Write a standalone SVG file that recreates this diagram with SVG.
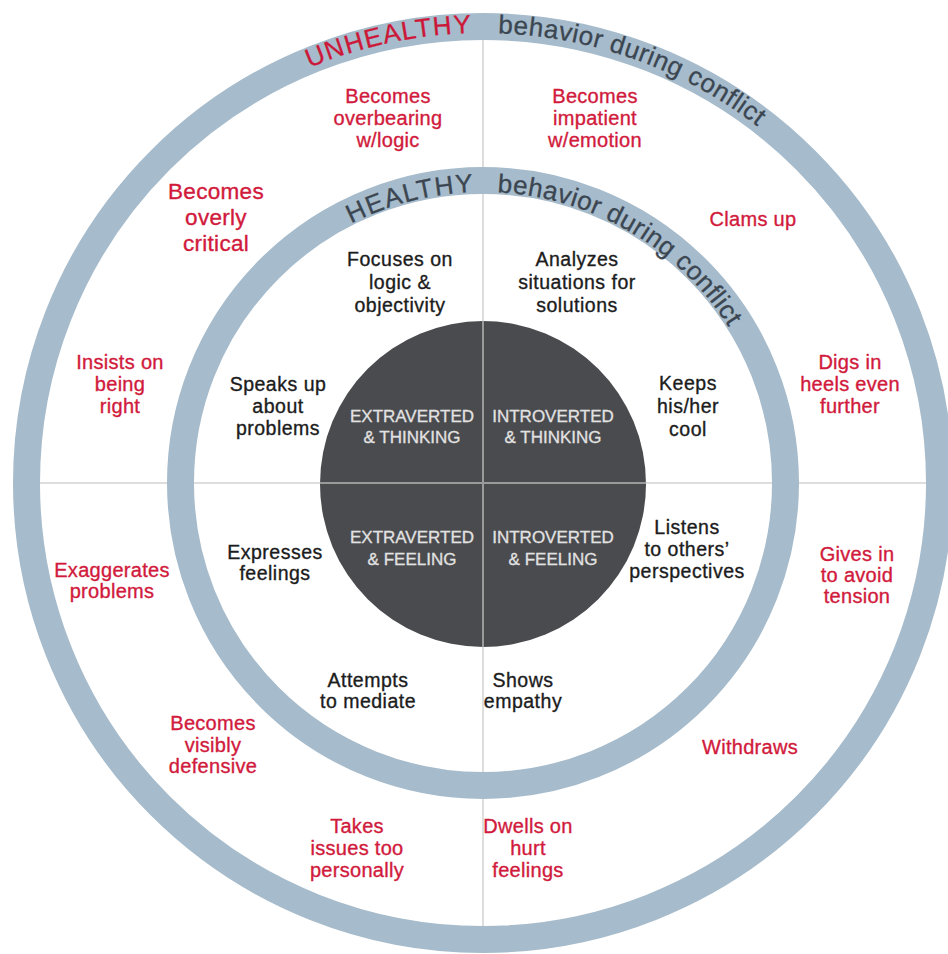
<svg xmlns="http://www.w3.org/2000/svg" xmlns:xlink="http://www.w3.org/1999/xlink" width="948" height="954" viewBox="0 0 948 954">
  <defs>
    <!-- arcs (clockwise from the left, over the top) used as baselines for ring titles -->
    <path id="outerArc" d="M 33 483 A 450 450 0 0 1 933 483"/>
    <path id="innerArc" d="M 192 483 A 291 291 0 0 1 774 483"/>
  </defs>
  <style>
    text { font-family: "Liberation Sans", Arial, Helvetica, sans-serif; text-anchor: middle; stroke-linejoin: round; }
    .ring { fill: none; stroke: #a6bbcb; stroke-width: 27; }
    .divider { stroke: #d2d2d2; stroke-width: 1.5; }
    .core-divider { stroke: #9a9a9a; stroke-width: 2; }
    .core { fill: #4a4b4e; }
    .red { fill: #d11a3c; stroke: #d11a3c; stroke-width: 0.35; font-size: 20px; letter-spacing: 0.3px; }
    .red.big { font-size: 22.5px; }
    .blk { fill: #1c1c1c; stroke: #1c1c1c; stroke-width: 0.35; font-size: 19.5px; letter-spacing: 0.5px; }
    .ctr { fill: #e2e2e2; stroke: #e2e2e2; stroke-width: 0.3; font-size: 17px; }
    .arc { font-size: 26px; text-anchor: start; stroke-width: 0.3; }
    .arc-red { fill: #cc1738; stroke: #cc1738; }
    .arc-dark { fill: #3b4651; stroke: #3b4651; }
  </style>

  <rect width="948" height="954" fill="#ffffff"/>

  <!-- quadrant dividers, drawn beneath the rings -->
  <g id="connectors">
    <line class="divider" x1="483" y1="20" x2="483" y2="946"/>
    <line class="divider" x1="20" y1="483" x2="946" y2="483"/>
  </g>

  <!-- rings -->
  <g id="outer-ring">
    <circle class="ring" cx="483" cy="483" r="456.5"/>
    <text class="arc arc-red" letter-spacing="1.3"><textPath xlink:href="#outerArc" startOffset="528.6">UNHEALTHY</textPath></text>
    <text class="arc arc-dark" letter-spacing="0.55"><textPath xlink:href="#outerArc" startOffset="721.8">behavior during conflict</textPath></text>
  </g>
  <g id="inner-ring">
    <circle class="ring" cx="483" cy="483" r="302.5"/>
    <text class="arc arc-dark" letter-spacing="1.5"><textPath xlink:href="#innerArc" startOffset="320">HEALTHY</textPath></text>
    <text class="arc arc-dark" letter-spacing="0.45"><textPath xlink:href="#innerArc" startOffset="471.3">behavior during conflict</textPath></text>
  </g>

  <!-- central disc with the four types -->
  <g id="core">
    <circle class="core" cx="483" cy="484" r="163"/>
    <line class="core-divider" x1="483" y1="321" x2="483" y2="647"/>
    <line class="core-divider" x1="320" y1="483" x2="646" y2="483"/>
  </g>
  <g id="type-et">
    <text class="ctr" x="412" y="422">EXTRAVERTED</text>
    <text class="ctr" x="412" y="443">&amp; THINKING</text>
  </g>
  <g id="type-it">
    <text class="ctr" x="553" y="422">INTROVERTED</text>
    <text class="ctr" x="553" y="443">&amp; THINKING</text>
  </g>
  <g id="type-ef">
    <text class="ctr" x="412" y="543">EXTRAVERTED</text>
    <text class="ctr" x="412" y="565">&amp; FEELING</text>
  </g>
  <g id="type-if">
    <text class="ctr" x="553" y="543">INTROVERTED</text>
    <text class="ctr" x="553" y="565">&amp; FEELING</text>
  </g>

  <!-- healthy behaviours (inside inner ring) -->
  <g id="healthy-focuses">
    <text class="blk" x="400" y="266">Focuses on</text>
    <text class="blk" x="400" y="289">logic &amp;</text>
    <text class="blk" x="400" y="312">objectivity</text>
  </g>
  <g id="healthy-analyzes">
    <text class="blk" x="577" y="266">Analyzes</text>
    <text class="blk" x="577" y="289">situations for</text>
    <text class="blk" x="577" y="312">solutions</text>
  </g>
  <g id="healthy-speaks">
    <text class="blk" x="278" y="391">Speaks up</text>
    <text class="blk" x="278" y="413">about</text>
    <text class="blk" x="278" y="435">problems</text>
  </g>
  <g id="healthy-keeps">
    <text class="blk" x="688" y="390">Keeps</text>
    <text class="blk" x="688" y="413">his/her</text>
    <text class="blk" x="688" y="436">cool</text>
  </g>
  <g id="healthy-expresses">
    <text class="blk" x="275" y="559">Expresses</text>
    <text class="blk" x="275" y="580">feelings</text>
  </g>
  <g id="healthy-listens">
    <text class="blk" x="687" y="534">Listens</text>
    <text class="blk" x="687" y="556">to others’</text>
    <text class="blk" x="687" y="578">perspectives</text>
  </g>
  <g id="healthy-mediate">
    <text class="blk" x="368" y="687">Attempts</text>
    <text class="blk" x="368" y="708">to mediate</text>
  </g>
  <g id="healthy-empathy">
    <text class="blk" x="523" y="687">Shows</text>
    <text class="blk" x="523" y="708">empathy</text>
  </g>

  <!-- unhealthy behaviours (between the rings) -->
  <g id="unhealthy-overbearing">
    <text class="red" x="388" y="103">Becomes</text>
    <text class="red" x="388" y="125">overbearing</text>
    <text class="red" x="388" y="147">w/logic</text>
  </g>
  <g id="unhealthy-impatient">
    <text class="red" x="595" y="103">Becomes</text>
    <text class="red" x="595" y="125">impatient</text>
    <text class="red" x="595" y="147">w/emotion</text>
  </g>
  <g id="unhealthy-critical">
    <text class="red big" x="216" y="199">Becomes</text>
    <text class="red big" x="216" y="225">overly</text>
    <text class="red big" x="216" y="251">critical</text>
  </g>
  <g id="unhealthy-clams">
    <text class="red" x="753" y="226">Clams up</text>
  </g>
  <g id="unhealthy-insists">
    <text class="red" x="120" y="369">Insists on</text>
    <text class="red" x="120" y="391">being</text>
    <text class="red" x="120" y="413">right</text>
  </g>
  <g id="unhealthy-digs">
    <text class="red" x="850" y="369">Digs in</text>
    <text class="red" x="850" y="391">heels even</text>
    <text class="red" x="850" y="413">further</text>
  </g>
  <g id="unhealthy-exaggerates">
    <text class="red" x="112" y="577">Exaggerates</text>
    <text class="red" x="112" y="598">problems</text>
  </g>
  <g id="unhealthy-gives">
    <text class="red" x="857" y="561">Gives in</text>
    <text class="red" x="857" y="582">to avoid</text>
    <text class="red" x="857" y="603">tension</text>
  </g>
  <g id="unhealthy-defensive">
    <text class="red" x="213" y="730">Becomes</text>
    <text class="red" x="213" y="752">visibly</text>
    <text class="red" x="213" y="773">defensive</text>
  </g>
  <g id="unhealthy-withdraws">
    <text class="red" x="750" y="754">Withdraws</text>
  </g>
  <g id="unhealthy-personally">
    <text class="red" x="357" y="833">Takes</text>
    <text class="red" x="357" y="855">issues too</text>
    <text class="red" x="357" y="877">personally</text>
  </g>
  <g id="unhealthy-dwells">
    <text class="red" x="528" y="833">Dwells on</text>
    <text class="red" x="528" y="855">hurt</text>
    <text class="red" x="528" y="877">feelings</text>
  </g>
</svg>
